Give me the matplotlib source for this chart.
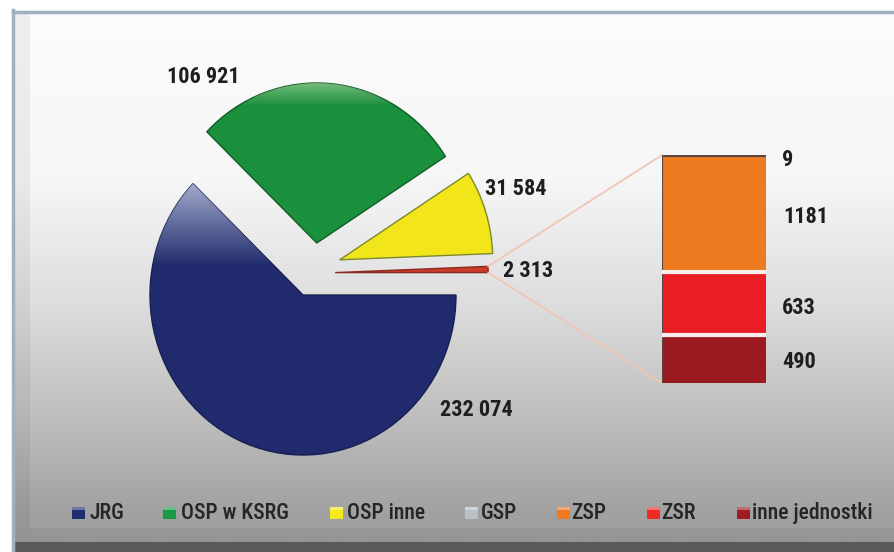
import numpy as np
import matplotlib
matplotlib.use('Agg')
import matplotlib.pyplot as plt
from matplotlib.patches import Rectangle, ConnectionPatch

# data
main_labels = ['JRG', 'OSP w KSRG', 'OSP inne', 'pozostałe']
main_values = [232074, 106921, 31584, 2313]
sub_labels = ['GSP', 'ZSP', 'ZSR', 'inne jednostki']
sub_values = [9, 1181, 633, 490]
legend_labels = ['JRG', 'OSP w KSRG', 'OSP inne', 'GSP', 'ZSP', 'ZSR', 'inne jednostki']

main_colors = ['#202a6c', '#1a8f3c', '#f2e51a', '#c83a2a']
main_edges = ['#16204f', '#0f5e26', '#7a8a2a', '#8a2a1e']
sub_colors = ['#c4ccd4', '#ef7b20', '#ea1d24', '#9a1a1f']
legend_colors = ['#1f2d6e', '#1b9a45', '#f5e81c', '#b8c0c8', '#f07a22', '#ee2a24', '#a01c22']

FONT = ['Roboto Condensed', 'DejaVu Sans']
W, H = 895, 552


def fmt(v):
    # thousands separated by a space only from 10 000 up, as in the source
    return f"{v:,}".replace(",", " ") if v >= 2000 else str(v)


def fx(x):
    return x / W


def fy(y):
    return 1 - y / H


fig = plt.figure(figsize=(W / 100, H / 100), dpi=100)
fig.patch.set_facecolor('white')

# background panel
bg = fig.add_axes([0, 0, 1, 1], zorder=0)
bg.set_xlim(0, W)
bg.set_ylim(H, 0)
bg.axis('off')
rows = np.arange(10, 543)
shade = np.interp(rows, [10, 180, 300, 420, 500, 542], [252, 246, 222, 190, 165, 155]) / 255
grad = np.dstack([shade, shade, shade * 1.005]).clip(0, 1).reshape(-1, 1, 3)
bg.imshow(grad, extent=(15, W, 542, 10), aspect='auto', interpolation='bilinear')
bg.add_patch(Rectangle((15, 12), 15, 530, color='black', alpha=0.05, lw=0))
bg.add_patch(Rectangle((30, 528), W - 30, 14, color='black', alpha=0.04, lw=0))
bg.add_patch(Rectangle((13, 542), W - 13, 10, color='#5a5a5a', lw=0))
bg.plot([13, 13], [10, 552], color='#9fb2c2', lw=2.5)
bg.plot([13, W], [11.5, 11.5], color='#9fb2c2', lw=2.5)

# pie
pa = fig.add_axes([0, 0, 1, 1], zorder=1)
rx, ry = 153, 160
cx, cy = 303, 295
wedges, _ = pa.pie(main_values, colors=main_colors, startangle=0, counterclock=False,
                   radius=1, wedgeprops=dict(linewidth=1.0))
offsets = [(0, 0), (0.09, 0.325), (0.24, 0.22), (0.21, 0.14)]
for w, off, ec in zip(wedges, offsets, main_edges):
    w.set_center(off)
    w.set_edgecolor(ec)
pa.axis('off')

# light top on JRG
yy = np.linspace(1, -1, 200)
a = np.clip((yy - 0.18) / 0.6, 0, 1) * 0.8
ov = np.zeros((200, 1, 4))
ov[..., 0], ov[..., 1], ov[..., 2] = 0.86, 0.9, 0.97
ov[:, 0, 3] = a
im = pa.imshow(ov, extent=(-1, 1, -1, 1), aspect='auto', interpolation='bilinear', zorder=2)
im.set_clip_path(wedges[0])

# thin light rim on green
gx, gy = offsets[1]
yy = np.linspace(gy + 1, gy - 1, 300)
a = np.clip((yy - (gy + 0.86)) / 0.14, 0, 1) * 0.45
ov2 = np.zeros((300, 1, 4))
ov2[..., 0], ov2[..., 1], ov2[..., 2] = 0.88, 0.96, 0.78
ov2[:, 0, 3] = a
im2 = pa.imshow(ov2, extent=(gx - 1, gx + 1, gy - 1, gy + 1), aspect='auto',
                interpolation='bilinear', zorder=2)
im2.set_clip_path(wedges[1])
pa.set_xlim(-cx / rx, (W - cx) / rx)
pa.set_ylim(-(H - cy) / ry, cy / ry)
pa.set_aspect('auto')

# stacked bar for the small slice
ba = fig.add_axes([fx(662), fy(383), 104 / W, 228 / H], zorder=2)
vals = sub_values[::-1]
cols = sub_colors[::-1]
bottoms = np.concatenate([[0], np.cumsum(vals)[:-1]])
ba.bar(0, vals, bottom=bottoms, width=1, color=cols, edgecolor='#5b4640', linewidth=0.8)
for b in bottoms[1:3]:
    ba.axhline(b, color='#fbeeee', lw=3)
ba.set_xlim(-0.5, 0.5)
ba.set_ylim(0, sum(sub_values))
ba.axis('off')

# connector lines from the small slice to the bar
rox, roy = offsets[3]
t0 = np.deg2rad(360 * main_values[3] / sum(main_values))
for (px, py), by in [((rox + np.cos(t0), roy + np.sin(t0)), sum(sub_values)),
                     ((rox + 1, roy), 0)]:
    con = ConnectionPatch(xyA=(px, py), coordsA=pa.transData, xyB=(-0.5, by),
                          coordsB=ba.transData, color='#f0c6b4', lw=1.3, zorder=1.5)
    fig.add_artist(con)

# value labels
val_pos = [(440, 410), (167, 77), (485, 189), (503, 271)]
for v, (x, y) in zip(main_values, val_pos):
    fig.text(fx(x), fy(y), fmt(v), ha='left', va='center', fontsize=16,
             family=FONT, weight='bold', color='#1e1e1e', zorder=5)
sub_pos = [(782, 160), (783, 217), (782, 308), (782, 362)]
for v, (x, y) in zip(sub_values, sub_pos):
    fig.text(fx(x), fy(y), fmt(v), ha='left', va='center', fontsize=16,
             family=FONT, weight='bold', color='#1e1e1e', zorder=5)

# legend
mark_x = [72, 163, 330, 465, 557, 647, 737]
text_x = [89, 181, 347, 481, 571, 661, 752]
for lab, c, mx, tx in zip(legend_labels, legend_colors, mark_x, text_x):
    bg.add_patch(Rectangle((mx, 507), 13, 12, facecolor=c, edgecolor='none', zorder=3))
    bg.add_patch(Rectangle((mx, 507), 13, 3, facecolor='white', alpha=0.35, edgecolor='none', zorder=4))
    fig.text(fx(tx), fy(513), lab, ha='left', va='center', fontsize=15.5,
             family=FONT, weight='medium', color='#252525', zorder=5)

fig.savefig('out.png', dpi=100)
